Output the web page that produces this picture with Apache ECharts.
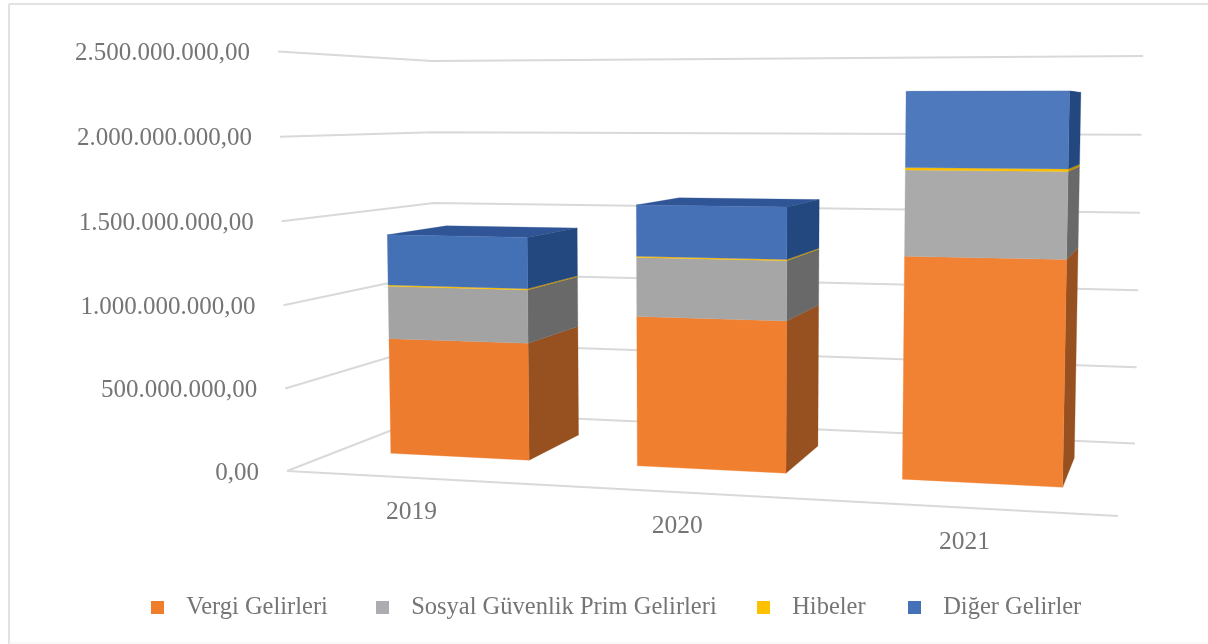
<!DOCTYPE html>
<html>
<head>
<meta charset="utf-8">
<style>
  html, body { margin: 0; padding: 0; background: #fff; }
  #chart { width: 1208px; height: 644px; }
</style>
<script src="https://cdn.jsdelivr.net/npm/echarts@6/dist/echarts.min.js"></script>
</head>
<body>
<div id="chart"></div>
<script>
const years = ['2019', '2020', '2021'];
const vergiGelirleri = [728000000, 914000000, 1312000000];
const sosyalGuvenlik = [330000000, 358000000, 500000000];
const hibeler = [8000000, 7000000, 14000000];
const digerGelirler = [315000000, 310000000, 438000000];
const tickValues = [0, 500000000, 1000000000, 1500000000, 2000000000, 2500000000];
const tickLabels = ['0,00', '500.000.000,00', '1.000.000.000,00', '1.500.000.000,00', '2.000.000.000,00', '2.500.000.000,00'];

const stacks = [vergiGelirleri, sosyalGuvenlik, hibeler, digerGelirler];
const seriesNames = ['Vergi Gelirleri', 'Sosyal Güvenlik Prim Gelirleri', 'Hibeler', 'Diğer Gelirler'];
const legendLefts = [146, 371, 752, 903];
const legendColors = ['#F07D2B', '#ADADB1', '#FFC000', '#4472B8'];
const frontColors = [
  ['#EE7C2E', '#F08030', '#F18233'],
  ['#A3A3A3', '#A6A6A6', '#A9AAA9'],
  ['#FFC000', '#FFC000', '#FFC000'],
  ['#4470B5', '#4671B6', '#4E79BD']
];
const sideColors = ['#97501F', '#696969', '#BF9000', '#23477F'];
const topColor = '#2F5597';
const textColor = '#757575';
const lineColor = '#D9D9D9';
const fontName = '"Liberation Serif", serif';

// floor corners on screen, then where the verticals converge
const floorFL = [287, 471], floorFR = [1118, 516], floorBR = [1135, 443.5], floorBL = [437, 412.5];
const vanish = [712, 20500];
const backLeftTopY = 61;

// unit square -> floor quad
const sx = floorFL[0] - floorFR[0] + floorBR[0] - floorBL[0];
const sy = floorFL[1] - floorFR[1] + floorBR[1] - floorBL[1];
const dx1 = floorFR[0] - floorBR[0], dx2 = floorBL[0] - floorBR[0];
const dy1 = floorFR[1] - floorBR[1], dy2 = floorBL[1] - floorBR[1];
const det = dx1 * dy2 - dx2 * dy1;
const g = (sx * dy2 - dx2 * sy) / det;
const h = (dx1 * sy - sx * dy1) / det;
const a = floorFR[0] - floorFL[0] + g * floorFR[0];
const b = floorBL[0] - floorFL[0] + h * floorBL[0];
const d = floorFR[1] - floorFL[1] + g * floorFR[1];
const e = floorBL[1] - floorFL[1] + h * floorBL[1];
const alpha = -(floorBL[1] - backLeftTopY) * (h + 1) / (vanish[1] - backLeftTopY);

// u across the floor, t into the depth, v up the wall, all 0..1
function project(u, t, v) {
  const w = g * u + h * t + 1 + alpha * v;
  return [
    (a * u + b * t + floorFL[0] + alpha * v * vanish[0]) / w,
    (d * u + e * t + floorFL[1] + alpha * v * vanish[1]) / w
  ];
}

function toUnit(point, sys) {
  return [(point[0] - sys.x) / sys.width, (sys.y + sys.height - point[1]) / sys.height];
}

const barShare = 0.57;
const barShift = 0.001;
const depthFront = 0.31;
const depthBack = 0.725;

function poly(points, fill) {
  return { type: 'polygon', shape: { points: points }, style: { fill: fill, stroke: fill, lineWidth: 0.3 } };
}

function renderSegment(stackIndex) {
  return function (params, api) {
    const i = api.value(0);
    const sys = params.coordSys;
    let base = 0;
    for (let k = 0; k < stackIndex; k++) base += stacks[k][i];
    const low = toUnit(api.coord([i, base]), sys);
    const high = toUnit(api.coord([i, base + api.value(1)]), sys);
    const half = api.size([1, 0])[0] * barShare / 2 / sys.width;
    const u0 = low[0] + barShift - half, u1 = low[0] + barShift + half;
    const children = [];
    if (stackIndex === stacks.length - 1) {
      children.push(poly([
        project(u0, depthFront, high[1]), project(u1, depthFront, high[1]),
        project(u1, depthBack, high[1]), project(u0, depthBack, high[1])
      ], topColor));
    }
    children.push(poly([
      project(u1, depthFront, low[1]), project(u1, depthBack, low[1]),
      project(u1, depthBack, high[1]), project(u1, depthFront, high[1])
    ], sideColors[stackIndex]));
    children.push(poly([
      project(u0, depthFront, low[1]), project(u1, depthFront, low[1]),
      project(u1, depthFront, high[1]), project(u0, depthFront, high[1])
    ], frontColors[stackIndex][i]));
    return { type: 'group', children: children };
  };
}

function renderGridLine(params, api) {
  const v = toUnit(api.coord([0, api.value(1)]), params.coordSys)[1];
  const start = project(0, 0, v);
  return {
    type: 'group',
    children: [
      {
        type: 'polyline',
        shape: { points: [start, project(0, 1, v), project(1, 1, v)] },
        style: { fill: null, stroke: lineColor, lineWidth: 2 }
      },
      {
        type: 'text',
        style: {
          x: start[0] - 28, y: start[1] + 2, text: tickLabels[params.dataIndex],
          align: 'right', verticalAlign: 'middle',
          fill: textColor, font: '25px ' + fontName
        }
      }
    ]
  };
}

function renderYearLabel(params, api) {
  const u = toUnit(api.coord([api.value(0), 0]), params.coordSys)[0];
  const p = project(u, 0, 0);
  return {
    type: 'text',
    style: {
      x: p[0] - 1, y: p[1] + 34.5, text: years[params.dataIndex],
      align: 'center', verticalAlign: 'middle',
      fill: textColor, font: '25.5px ' + fontName
    }
  };
}

function renderFloorEdge(params) {
  return {
    type: 'line',
    shape: {
      x1: project(0, 0, 0)[0], y1: project(0, 0, 0)[1],
      x2: project(1, 0, 0)[0], y2: project(1, 0, 0)[1]
    },
    style: { stroke: lineColor, lineWidth: 2 }
  };
}

const chart = echarts.init(document.getElementById('chart'));
const option = {
  backgroundColor: '#fff',
  animation: false,
  graphic: [
    { type: 'line', silent: true, shape: { x1: 9, y1: 4, x2: 1208, y2: 4 }, style: { stroke: '#E2E2E2', lineWidth: 2 } },
    { type: 'line', silent: true, shape: { x1: 9, y1: 4, x2: 9, y2: 644 }, style: { stroke: '#E2E2E2', lineWidth: 2 } },
    { type: 'line', silent: true, shape: { x1: 9, y1: 643, x2: 1208, y2: 643 }, style: { stroke: '#F3F3F3', lineWidth: 1 } }
  ],
  grid: { left: 287, top: 51, width: 831, height: 420 },
  xAxis: { type: 'category', data: years, show: false },
  yAxis: { type: 'value', min: 0, max: 2500000000, interval: 500000000, show: false },
  legend: seriesNames.map((name, i) => ({
    left: legendLefts[i],
    top: 590,
    icon: 'rect',
    itemWidth: 13,
    itemHeight: 13,
    data: [name],
    formatter: n => '  \u2009' + n,
    textStyle: { color: textColor, fontSize: 24.5, fontFamily: fontName }
  })),
  series: [
    {
      type: 'custom',
      name: 'grid',
      silent: true,
      renderItem: renderGridLine,
      data: tickValues.map(v => [0, v])
    },
    {
      type: 'custom',
      name: 'floor',
      silent: true,
      renderItem: renderFloorEdge,
      data: [[0, 0]]
    },
    {
      type: 'custom',
      name: 'years',
      silent: true,
      renderItem: renderYearLabel,
      data: years.map((y, i) => [i, 0])
    }
  ].concat(stacks.map((values, s) => ({
    type: 'custom',
    name: seriesNames[s],
    itemStyle: { color: legendColors[s] },
    renderItem: renderSegment(s),
    data: values.map((v, i) => [i, v])
  })))
};
chart.setOption(option);
</script>
</body>
</html>
